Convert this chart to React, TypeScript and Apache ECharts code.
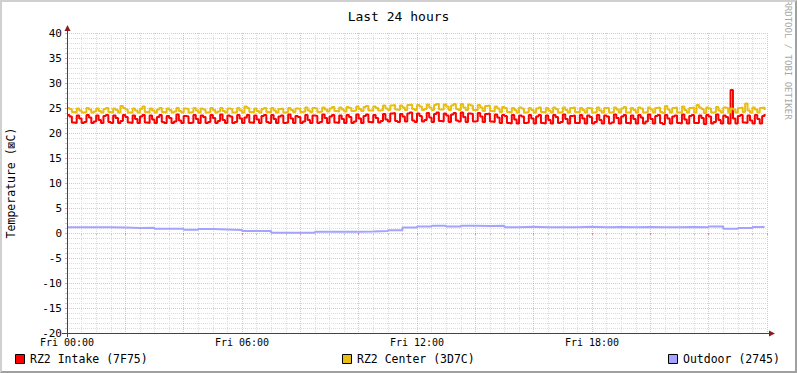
import React, { useEffect, useRef } from "react";
import * as echarts from "echarts";

const titleText = "Last 24 hours";
const yAxisTitle = "Temperature (⊠C)";
const watermark = "RRDTOOL / TOBI OETIKER";
const xTickLabels = ["Fri 00:00", "Fri 06:00", "Fri 12:00", "Fri 18:00"];
const seriesNames = ["RZ2 Intake (7F75)", "RZ2 Center (3D7C)", "Outdoor (2745)"];
const seriesColors = ["#FF0000", "#E8BE12", "#A4A4FF"];
const sampleMinutes = 5;
const outdoorSampleMinutes = 30;

// RZ2 Intake, 5-minute samples (24 rows of one hour)
const intake = [
  23.6, 23.3, 22.1, 22.0, 23.5, 22.9, 22.0, 22.2, 23.6, 23.1, 22.0, 22.3,
  23.5, 22.6, 22.0, 23.4, 23.6, 22.2, 22.0, 23.5, 23.0, 22.0, 22.4, 23.6,
  23.2, 22.1, 22.0, 23.5, 22.8, 22.0, 23.3, 23.6, 22.1, 22.0, 23.5, 22.7,
  22.0, 23.2, 23.6, 22.2, 22.0, 23.4, 23.0, 22.0, 22.3, 23.7, 22.5, 22.0,
  23.4, 23.3, 22.0, 22.1, 23.6, 22.8, 22.0, 23.5, 23.2, 22.0, 22.2, 23.6,
  23.0, 22.0, 22.4, 23.7, 22.6, 22.0, 23.5, 23.3, 22.0, 22.2, 23.6, 22.9,
  22.0, 23.1, 23.6, 22.1, 22.0, 23.5, 22.7, 22.0, 23.4, 23.6, 22.2, 22.0,
  23.6, 22.8, 22.0, 23.3, 23.5, 22.0, 22.1, 23.7, 22.9, 22.0, 23.4, 23.2,
  22.0, 22.3, 23.6, 22.6, 22.0, 23.5, 23.4, 22.0, 22.2, 23.7, 23.0, 22.0,
  23.3, 23.6, 22.1, 22.0, 23.5, 22.8, 22.0, 23.6, 23.2, 22.0, 22.3, 23.7,
  22.9, 22.0, 23.4, 23.7, 22.2, 22.1, 23.6, 23.0, 22.1, 22.4, 23.8, 22.7,
  22.3, 23.9, 24.0, 22.4, 22.2, 23.8, 23.3, 22.3, 23.9, 24.1, 22.5, 22.2,
  23.9, 23.4, 22.3, 22.6, 24.0, 23.1, 22.2, 23.8, 24.1, 22.4, 22.3, 23.9,
  23.5, 22.2, 23.7, 24.0, 22.5, 22.3, 24.1, 23.2, 22.2, 23.9, 23.8, 22.3,
  22.4, 24.0, 23.3, 22.2, 23.8, 23.9, 22.3, 22.2, 23.7, 23.1, 22.0, 23.6,
  23.4, 22.0, 21.9, 23.6, 22.7, 21.9, 23.5, 23.3, 22.0, 22.1, 23.6, 22.9,
  21.9, 23.3, 23.6, 22.0, 21.9, 23.5, 22.6, 21.9, 23.6, 23.2, 22.0, 22.2,
  23.7, 22.8, 21.9, 23.4, 23.5, 22.0, 22.0, 23.6, 22.9, 21.9, 23.5, 23.2,
  21.9, 22.2, 23.6, 22.6, 21.9, 23.5, 23.3, 21.9, 22.1, 23.7, 23.0, 21.9,
  23.3, 23.6, 22.0, 21.9, 23.5, 22.8, 21.9, 23.6, 23.1, 21.9, 22.3, 23.7,
  22.8, 21.9, 23.4, 23.6, 22.0, 21.8, 23.6, 22.9, 21.9, 23.3, 23.5, 22.0,
  21.9, 23.7, 22.7, 21.9, 23.4, 23.6, 22.0, 22.0, 23.5, 23.0, 21.8, 23.6,
  23.3, 21.9, 22.2, 23.7, 22.6, 21.9, 23.5, 23.2, 21.9, 28.6, 22.9, 21.9,
  23.4, 23.6, 22.1, 22.0, 23.5, 22.5, 21.9, 23.6, 22.8, 21.9, 23.4, 23.8,
];

// RZ2 Center, 5-minute samples
const center = [
  25.0, 24.8, 24.2, 24.1, 24.9, 24.5, 24.1, 24.2, 25.0, 24.7, 24.1, 24.3,
  24.9, 24.4, 24.1, 24.8, 25.0, 24.2, 24.1, 24.9, 24.6, 24.1, 25.4, 25.0,
  24.7, 24.1, 24.1, 24.9, 24.5, 24.1, 24.8, 25.3, 24.2, 24.1, 24.9, 24.5,
  24.1, 24.7, 25.0, 24.2, 24.1, 24.9, 24.6, 24.1, 24.3, 25.0, 24.4, 24.1,
  24.9, 24.8, 24.1, 24.2, 25.0, 24.5, 24.1, 24.9, 24.7, 24.1, 24.2, 25.0,
  24.6, 24.1, 24.3, 25.0, 24.4, 24.1, 24.9, 24.8, 24.1, 24.2, 25.0, 24.5,
  24.1, 25.3, 25.0, 24.2, 24.1, 24.9, 24.4, 24.1, 24.8, 25.0, 24.2, 24.1,
  25.0, 24.5, 24.1, 24.8, 24.9, 24.1, 24.2, 25.0, 24.6, 24.2, 24.9, 24.8,
  24.2, 24.3, 25.1, 24.5, 24.2, 25.0, 24.9, 24.2, 24.3, 25.1, 24.7, 24.3,
  24.9, 25.2, 24.4, 24.3, 25.1, 24.7, 24.3, 25.2, 25.0, 24.4, 24.5, 25.3,
  24.8, 24.4, 25.2, 25.4, 24.5, 24.5, 25.3, 25.0, 24.5, 24.6, 25.5, 24.9,
  24.6, 25.5, 25.6, 24.7, 24.6, 25.5, 25.1, 24.6, 25.6, 25.7, 24.8, 24.6,
  25.6, 25.3, 24.6, 24.8, 25.7, 25.1, 24.6, 25.6, 25.8, 24.7, 24.7, 25.7,
  25.3, 24.6, 25.5, 25.8, 24.8, 24.6, 25.8, 25.1, 24.6, 25.7, 25.5, 24.6,
  24.6, 25.6, 25.1, 24.4, 25.4, 25.5, 24.4, 24.3, 25.3, 24.9, 24.2, 25.2,
  25.0, 24.2, 24.1, 25.0, 24.6, 24.1, 25.1, 24.9, 24.1, 24.2, 25.0, 24.6,
  24.1, 24.9, 25.1, 24.2, 24.1, 25.0, 24.5, 24.1, 25.1, 24.8, 24.1, 24.2,
  25.1, 24.6, 24.1, 25.0, 25.1, 24.2, 24.1, 25.0, 24.6, 24.1, 25.0, 24.9,
  24.1, 24.2, 25.1, 24.5, 24.1, 25.0, 25.0, 24.1, 24.2, 25.1, 24.7, 24.1,
  24.9, 25.2, 24.1, 24.1, 25.0, 24.6, 24.1, 25.1, 24.9, 24.1, 24.2, 25.1,
  24.7, 24.1, 25.0, 25.1, 24.2, 24.0, 25.4, 24.7, 24.1, 25.0, 25.1, 24.1,
  24.1, 25.3, 24.6, 24.1, 25.0, 25.1, 24.1, 25.6, 25.1, 24.8, 24.0, 25.1,
  24.9, 24.1, 24.2, 25.2, 24.5, 24.1, 25.1, 25.0, 24.1, 24.9, 24.7, 24.1,
  25.0, 25.1, 24.2, 25.9, 24.5, 24.1, 25.1, 24.7, 24.1, 25.0, 25.1, 24.6,
];

// Outdoor, 30-minute samples
const outdoor = [
  1.15, 1.15, 1.15, 1.1, 1.0, 1.05, 0.85, 0.85, 0.65, 0.8, 0.7, 0.6,
  0.4, 0.4, 0.05, 0.05, 0.05, 0.25, 0.25, 0.25, 0.3, 0.4, 0.55, 1.1,
  1.3, 1.45, 1.3, 1.45, 1.4, 1.45, 1.15, 1.25, 1.15, 1.15, 1.15, 1.25,
  1.15, 1.2, 1.15, 1.2, 1.15, 1.15, 1.2, 1.15, 1.3, 0.85, 1.0, 1.2,
];

const FONT = "'DejaVu Sans Mono', monospace";
const legendX = [15, 342, 668];

export default function App() {
  const ref = useRef<HTMLDivElement>(null);
  useEffect(() => {
    if (!ref.current) return;
    const chart = echarts.init(ref.current, undefined, { renderer: "svg" });

    const seriesData = [
      intake.map((v, i) => [i * sampleMinutes, v]),
      center.map((v, i) => [i * sampleMinutes, v]),
      outdoor
        .map((v, i) => [i * outdoorSampleMinutes, v])
        .concat([[1440 - sampleMinutes, outdoor[outdoor.length - 1]]]),
    ];

    const legendGraphics: any[] = [];
    seriesNames.forEach((name, i) => {
      legendGraphics.push({
        type: "rect",
        shape: { x: legendX[i] + 0.5, y: 354.5, width: 9, height: 9 },
        style: { fill: seriesColors[i], stroke: "#000", lineWidth: 1 },
      });
      legendGraphics.push({
        type: "text",
        x: legendX[i] + 15,
        y: 359,
        style: {
          text: name,
          font: `11.5px ${FONT}`,
          fill: "#000",
          textVerticalAlign: "middle",
          textAlign: "left",
        },
      });
    });

    const axisColor = "#4a4040";
    const arrowColor = "#8B1C1C";
    const majorGrid = { color: "rgba(235,120,120,0.5)", type: [1, 1], width: 1 };
    const minorGrid = { color: "#dcdcdc", type: [1, 1], width: 1 };

    chart.setOption({
      animation: false,
      backgroundColor: "#ffffff",
      title: {
        text: titleText,
        left: "center",
        top: 5,
        textStyle: { fontSize: 13, fontWeight: "normal", fontFamily: FONT, color: "#000" },
      },
      grid: { left: 67, top: 33, width: 700, height: 300, containLabel: false, outerBoundsMode: "none" },
      xAxis: {
        type: "value",
        min: 0,
        max: 1440,
        interval: 120,
        axisLine: { show: false },
        axisTick: { show: true, length: 2, lineStyle: { color: "rgba(220,60,60,0.5)" } },
        minorTick: { show: true, splitNumber: 4, length: 2, lineStyle: { color: "#cccccc" } },
        splitLine: { show: true, lineStyle: majorGrid },
        minorSplitLine: { show: true, lineStyle: minorGrid },
        axisLabel: {
          formatter: (v: number) => (v % 360 === 0 && v < 1440 ? xTickLabels[v / 360] : ""),
          fontSize: 10,
          fontFamily: FONT,
          color: "#000",
          margin: 4,
          align: "center",
          alignMinLabel: "center",
          hideOverlap: false,
        },
      },
      yAxis: {
        type: "value",
        min: -20,
        max: 40,
        interval: 5,
        axisLine: { show: false },
        axisTick: { show: true, length: 2, lineStyle: { color: "rgba(220,60,60,0.5)" } },
        minorTick: { show: true, splitNumber: 5, length: 2, lineStyle: { color: "#cccccc" } },
        splitLine: { show: true, lineStyle: majorGrid },
        minorSplitLine: { show: true, lineStyle: minorGrid },
        axisLabel: { fontSize: 11, fontFamily: FONT, color: "#000", margin: 5 },
      },
      series: seriesNames.map((name, i) => ({
        name,
        type: "line",
        step: "end",
        data: seriesData[i],
        showSymbol: false,
        symbol: "none",
        lineStyle: { width: 2, color: seriesColors[i] },
        itemStyle: { color: seriesColors[i] },
        z: 3 + i,
      })),
      graphic: [
        { type: "line", shape: { x1: 67.5, y1: 337, x2: 67.5, y2: 30 }, style: { stroke: axisColor, lineWidth: 1 }, z: 10 },
        { type: "line", shape: { x1: 62, y1: 333.5, x2: 770, y2: 333.5 }, style: { stroke: axisColor, lineWidth: 1 }, z: 10 },
        { type: "polygon", shape: { points: [[67.5, 25], [64.5, 31], [70.5, 31]] }, style: { fill: arrowColor }, z: 11 },
        { type: "polygon", shape: { points: [[775, 333.5], [769, 330.5], [769, 336.5]] }, style: { fill: arrowColor }, z: 11 },
        {
          type: "text",
          x: 11,
          y: 183,
          rotation: Math.PI / 2,
          style: {
            text: yAxisTitle,
            font: `11.5px ${FONT}`,
            fill: "#000",
            textAlign: "center",
            textVerticalAlign: "middle",
          },
        },
        {
          type: "text",
          x: 788,
          y: 60,
          rotation: -Math.PI / 2,
          style: {
            text: watermark,
            font: `9px ${FONT}`,
            fill: "#a8a8a8",
            textAlign: "center",
            textVerticalAlign: "middle",
          },
        },
        ...legendGraphics,
      ],
    });
    return () => chart.dispose();
  }, []);

  return (
    <div style={{ position: "fixed", left: 0, top: 0, width: 797, height: 373, background: "#fff" }}>
      <div ref={ref} style={{ position: "absolute", left: 0, top: 0, width: 797, height: 373 }} />
      <div
        style={{
          position: "absolute",
          left: 0,
          top: 0,
          width: 797,
          height: 373,
          boxSizing: "border-box",
          borderTop: "2px solid #d0d0d0",
          borderLeft: "2px solid #d0d0d0",
          borderBottom: "2px solid #a0a0a0",
          borderRight: "2px solid #a0a0a0",
          pointerEvents: "none",
        }}
      />
    </div>
  );
}
